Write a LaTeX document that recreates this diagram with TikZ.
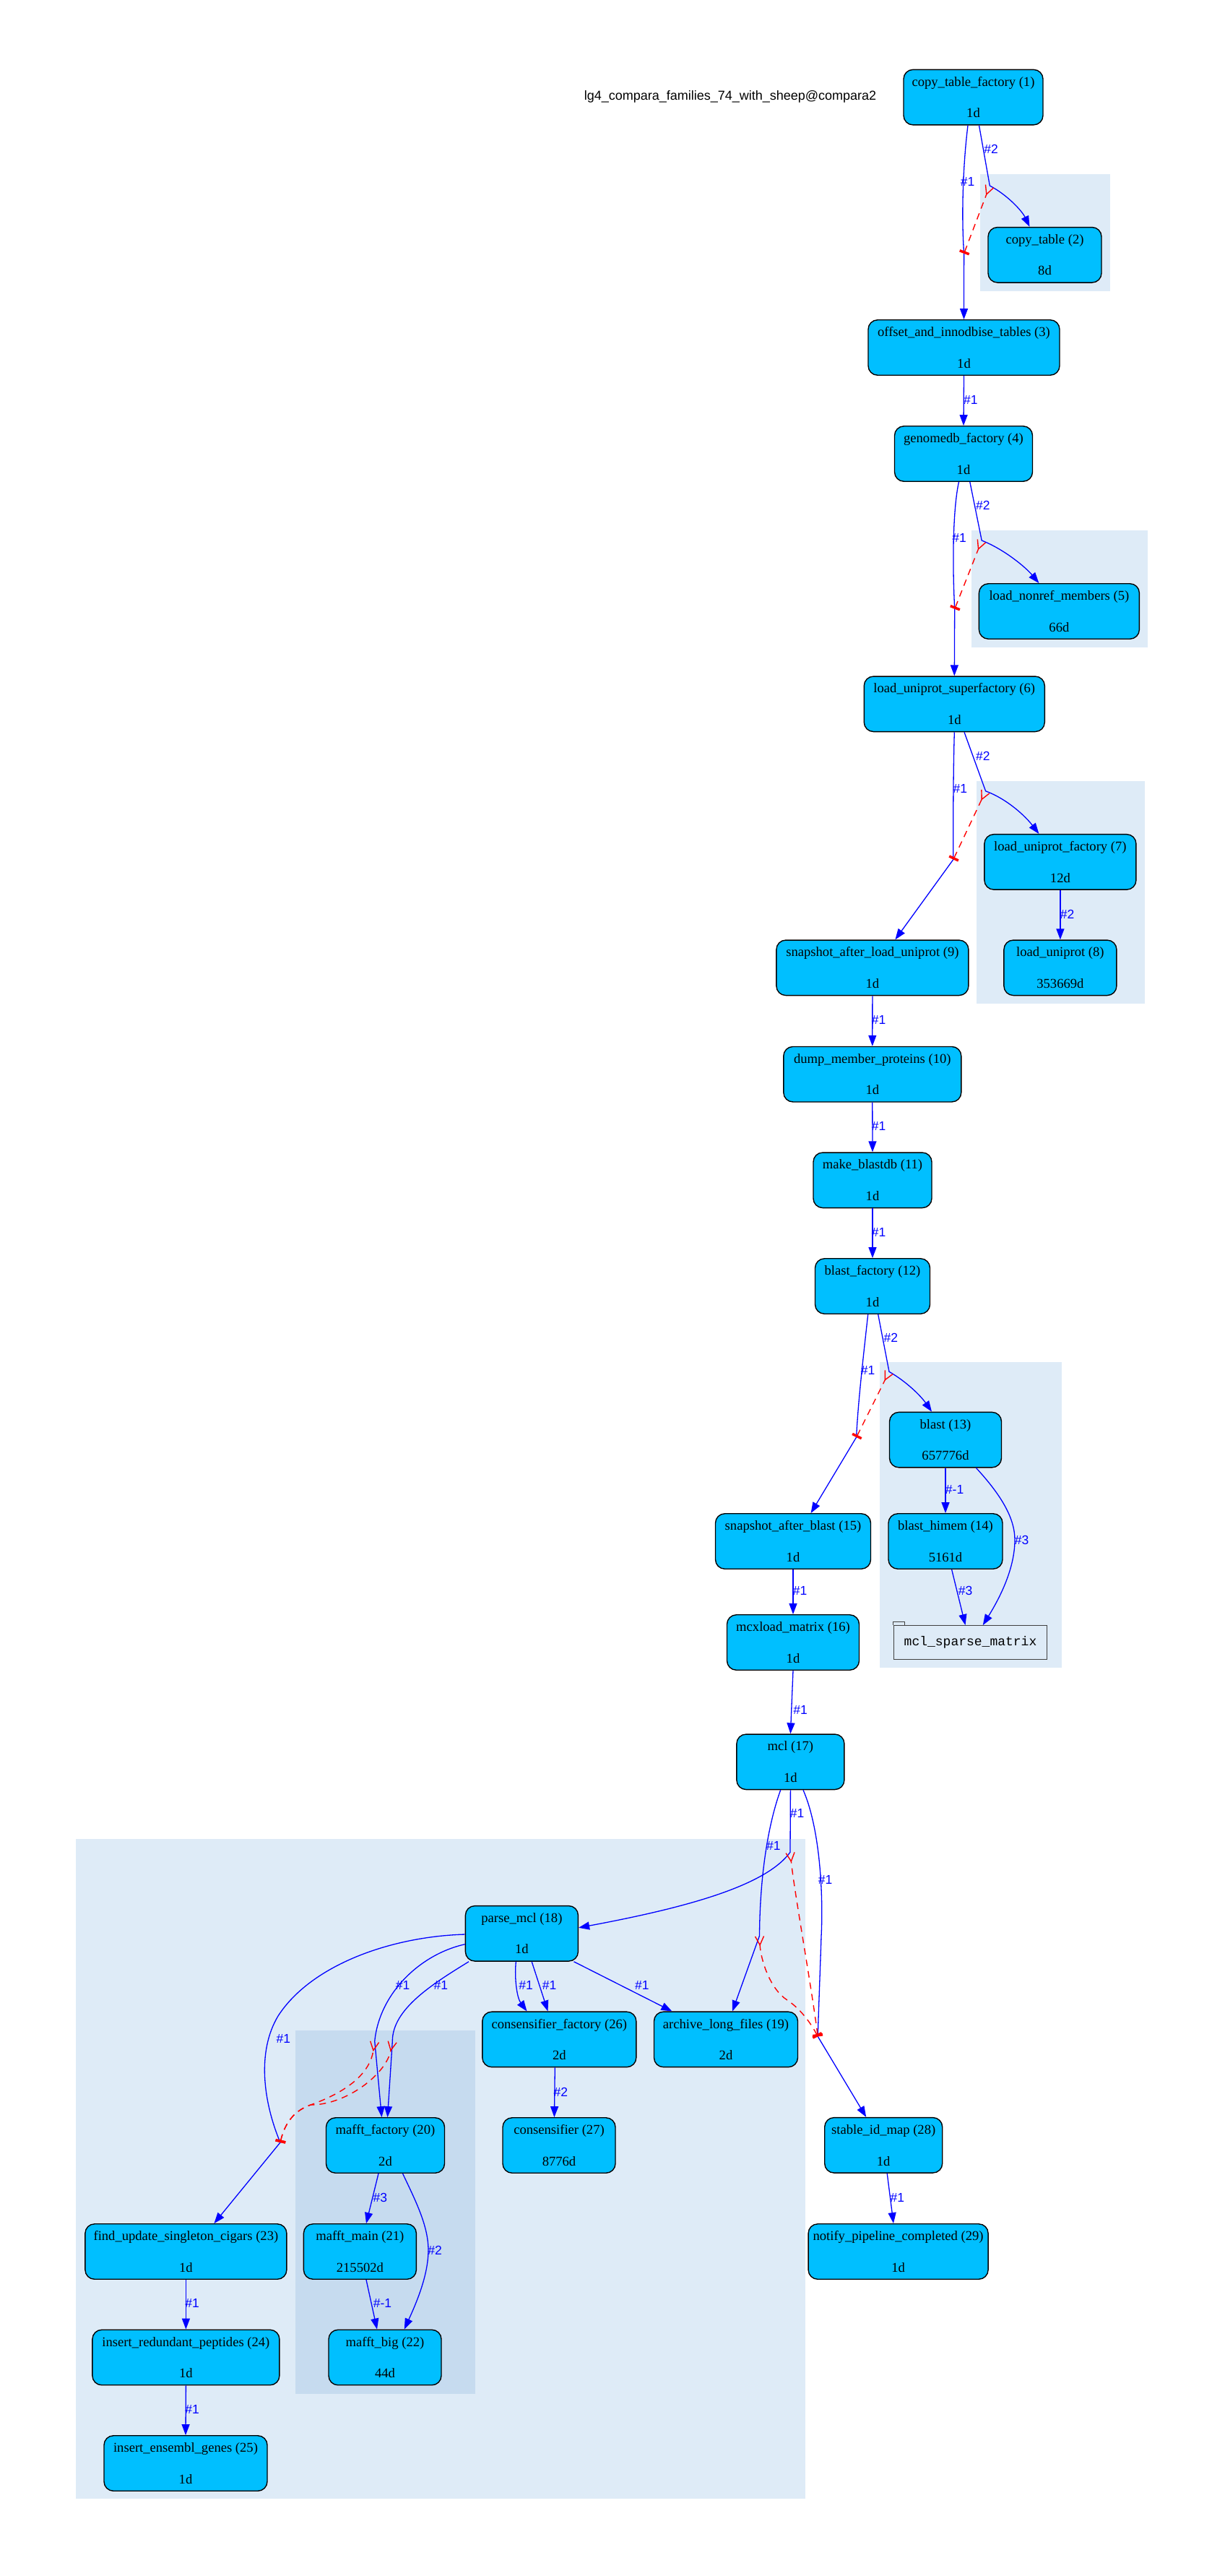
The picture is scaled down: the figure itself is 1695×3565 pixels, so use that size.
\documentclass[tikz,border=0pt]{standalone}
\usepackage{fontspec}
\setmainfont{Liberation Serif}
\setmonofont{Liberation Mono}
\newfontfamily\sansfam{Liberation Sans}
\usepackage{xcolor}
\usepackage{tikz}
\usetikzlibrary{calc,arrows.meta}
\definecolor{jobfill}{HTML}{00BFFF}
\definecolor{blues2}{HTML}{DEEBF7}
\definecolor{blues3}{HTML}{C6DBEF}
\definecolor{linkblue}{HTML}{0000FF}
\definecolor{semared}{HTML}{FF0000}
\definecolor{storeline}{HTML}{404040}
\newcommand\jobfont{\fontsize{18.6}{21.8}\selectfont}
\newcommand\elabfont{\sansfam\fontsize{17.5}{20}\selectfont}
\tikzset{
  jobbox/.style={draw=black, fill=jobfill, rounded corners=13pt, line width=1.4pt,
    minimum height=76.5pt, inner sep=0pt, align=center, font=\jobfont},
  store/.style={draw=storeline, fill=blues2, line width=1.4pt, minimum width=212pt,
    minimum height=46.5pt, inner sep=0pt, font=\ttfamily\fontsize{18}{20}\selectfont},
  tabline/.style={draw=storeline, line width=1.2pt},
  flowpart/.style={draw=linkblue, line width=1.3pt},
  flow/.style={flowpart, -{Triangle[length=15pt,width=11pt]}},
  sema/.style={draw=semared, line width=1.4pt, dash pattern=on 9pt off 7pt,
    {Bar[width=14pt,line width=3.5pt]}-{Straight Barb[reversed,length=12pt,width=12pt]}},
  elab/.style={text=linkblue, font=\elabfont, inner sep=0pt},
  titlelab/.style={text=black, font=\sansfam\fontsize{18}{20}\selectfont, inner sep=0pt}
}

\begin{document}
\begin{tikzpicture}[x=1pt, y=-1pt]
  \fill[white] (0,0) rectangle (1695,3565);
  \useasboundingbox (0,0) rectangle (1695,3565);

  % clusters
  \fill[blues2] (1356.5,240.6) rectangle (1536.6,403.3);
  \fill[blues2] (1344.7,734.2) rectangle (1588.8,896.3);
  \fill[blues2] (1351.6,1080.5) rectangle (1584.6,1389);
  \fill[blues2] (1218,1885) rectangle (1470,2308);
  \fill[blues2] (105.4,2544.5) rectangle (1114.5,3458.2);
  \fill[blues3] (408.5,2809.7) rectangle (658,3312.5);

  \node[titlelab] (title) at (1011,134) {lg4\_compara\_families\_74\_with\_sheep@compara2};

  \node[jobbox, minimum width=193pt] (ctf) at (1347.5,134.6) {copy\_table\_factory (1)\\[21.8pt]1d};
  \node[jobbox, minimum width=157pt] (ct) at (1446.5,352.8) {copy\_table (2)\\[21.8pt]8d};
  \node[jobbox, minimum width=265pt] (oit) at (1334.5,481) {offset\_and\_innodbise\_tables (3)\\[21.8pt]1d};
  \node[jobbox, minimum width=191pt] (gdf) at (1334,628) {genomedb\_factory (4)\\[21.8pt]1d};
  \node[jobbox, minimum width=222pt] (lnm) at (1466.4,846) {load\_nonref\_members (5)\\[21.8pt]66d};
  \node[jobbox, minimum width=250pt] (lus) at (1321.3,974.3) {load\_uniprot\_superfactory (6)\\[21.8pt]1d};
  \node[jobbox, minimum width=210pt] (luf) at (1467.9,1192.9) {load\_uniprot\_factory (7)\\[21.8pt]12d};
  \node[jobbox, minimum width=156pt] (lu) at (1467.9,1339.3) {load\_uniprot (8)\\[21.8pt]353669d};
  \node[jobbox, minimum width=266pt] (salu) at (1207.9,1339.3) {snapshot\_after\_load\_uniprot (9)\\[21.8pt]1d};
  \node[jobbox, minimum width=246pt] (dmp) at (1207.8,1486.7) {dump\_member\_proteins (10)\\[21.8pt]1d};
  \node[jobbox, minimum width=164pt] (mbd) at (1208,1633.3) {make\_blastdb (11)\\[21.8pt]1d};
  \node[jobbox, minimum width=159pt] (bf) at (1208,1780) {blast\_factory (12)\\[21.8pt]1d};
  \node[jobbox, minimum width=155pt] (bl) at (1309,1992.6) {blast (13)\\[21.8pt]657776d};
  \node[jobbox, minimum width=158pt] (blh) at (1309,2133) {blast\_himem (14)\\[21.8pt]5161d};
  \node[jobbox, minimum width=215pt] (sab) at (1098,2133) {snapshot\_after\_blast (15)\\[21.8pt]1d};
  \node[jobbox, minimum width=183pt] (mcx) at (1098,2273) {mcxload\_matrix (16)\\[21.8pt]1d};
  \node[store] (msm) at (1343.5,2273) {mcl\_sparse\_matrix};
  \draw[tabline] (msm.north west) -- ++(0,-4.5) -- ++(15.6,0) -- ++(0,4.5);
  \node[jobbox, minimum width=149pt] (mcl) at (1094.4,2438.3) {mcl (17)\\[21.8pt]1d};
  \node[jobbox, minimum width=156pt] (pm) at (722.4,2675.8) {parse\_mcl (18)\\[21.8pt]1d};
  \node[jobbox, minimum width=199pt] (alf) at (1005,2822.4) {archive\_long\_files (19)\\[21.8pt]2d};
  \node[jobbox, minimum width=164pt] (mf) at (533.5,2969) {mafft\_factory (20)\\[21.8pt]2d};
  \node[jobbox, minimum width=156pt] (mm) at (498.4,3116) {mafft\_main (21)\\[21.8pt]215502d};
  \node[jobbox, minimum width=156pt] (mb) at (533,3262.5) {mafft\_big (22)\\[21.8pt]44d};
  \node[jobbox, minimum width=279pt] (fusc) at (257.4,3116) {find\_update\_singleton\_cigars (23)\\[21.8pt]1d};
  \node[jobbox, minimum width=259pt] (irp) at (257.4,3262.5) {insert\_redundant\_peptides (24)\\[21.8pt]1d};
  \node[jobbox, minimum width=226pt] (ieg) at (257,3409) {insert\_ensembl\_genes (25)\\[21.8pt]1d};
  \node[jobbox, minimum width=213pt] (cf) at (774.3,2822.4) {consensifier\_factory (26)\\[21.8pt]2d};
  \node[jobbox, minimum width=156pt] (cs) at (774,2969) {consensifier (27)\\[21.8pt]8776d};
  \node[jobbox, minimum width=163pt] (sim) at (1223.2,2968.8) {stable\_id\_map (28)\\[21.8pt]1d};
  \node[jobbox, minimum width=249pt] (npc) at (1243.6,3116) {notify\_pipeline\_completed (29)\\[21.8pt]1d};

  % fan and funnel points
  \coordinate (j1a) at (1334.6,350.9);
  \coordinate (j1b) at (1370.3,257);
  \coordinate (j2a) at (1321.7,842.8);
  \coordinate (j2b) at (1359.2,748);
  \coordinate (j3a) at (1319.8,1189.5);
  \coordinate (j3b) at (1364.6,1094.8);
  \coordinate (j4a) at (1185.6,1989.1);
  \coordinate (j4b) at (1231,1898.3);
  \coordinate (j5m) at (1094,2563.3);
  \coordinate (j5a) at (1051.5,2679);
  \coordinate (j5t) at (1132.3,2818.4);
  \coordinate (j6a) at (518.75,2825);
  \coordinate (j6b) at (543.3,2825);
  \coordinate (j6t) at (388,2965);

  \draw[flow] ([xshift=-7.5pt]ctf.south) .. controls (1333,230) and (1331,300) .. (j1a) -- (oit.north);
  \draw[flow] ([xshift=8pt]ctf.south) -- (j1b) .. controls (1395,270) and (1415,292) .. ([xshift=-21pt]ct.north);
  \draw[sema] (j1a) -- (j1b);
  \draw[flow] (oit.south) -- (gdf.north);

  \draw[flow] ([xshift=-6.5pt]gdf.south) .. controls (1320,700) and (1318,770) .. (j2a) -- (lus.north);
  \draw[flow] ([xshift=8.8pt]gdf.south) -- (j2b) .. controls (1390,760) and (1420,785) .. ([xshift=-28pt]lnm.north);
  \draw[sema] (j2a) -- (j2b);

  \draw[flow] (lus.south) .. controls (1320,1060) and (1319.5,1120) .. (j3a) -- ([xshift=31.5pt]salu.north);
  \draw[flow] ([xshift=13.7pt]lus.south) -- (j3b) .. controls (1395,1106) and (1420,1130) .. ([xshift=-29.5pt]luf.north);
  \draw[sema] (j3a) -- (j3b);
  \draw[flow] (luf.south) -- (lu.north);
  \draw[flow] (salu.south) -- (dmp.north);
  \draw[flow] (dmp.south) -- (mbd.north);
  \draw[flow] (mbd.south) -- (bf.north);

  \draw[flow] ([xshift=-6.3pt]bf.south) .. controls (1195,1880) and (1188,1940) .. (j4a) -- ([xshift=24.6pt]sab.north);
  \draw[flow] ([xshift=7.7pt]bf.south) -- (j4b) .. controls (1255,1912) and (1275,1932) .. ([xshift=-19pt]bl.north);
  \draw[sema] (j4a) -- (j4b);
  \draw[flow] (bl.south) -- (blh.north);
  \draw[flow] ([xshift=8.6pt]blh.south) -- ([xshift=-7pt]msm.north);
  \draw[flow] ([xshift=42.5pt]bl.south) .. controls (1385,2068) and (1405,2100) .. (1405,2131)
    .. controls (1405,2170) and (1385,2210) .. ([xshift=17.3pt]msm.north);
  \draw[flow] (sab.south) -- (mcx.north);
  \draw[flow] (mcx.south) -- (mcl.north);

  \draw[flow] (mcl.south) -- (j5m) .. controls (1060,2610) and (950,2640) .. ([yshift=8pt]pm.east);
  \draw[flow] ([xshift=-13.7pt]mcl.south) .. controls (1065,2520) and (1052,2590) .. (j5a) -- ([xshift=9pt]alf.north);
  \draw[flow] ([xshift=17.6pt]mcl.south) .. controls (1135,2530) and (1140,2620) .. (1137,2680)
    .. controls (1135,2740) and (1133,2790) .. (j5t) -- ([xshift=-24pt]sim.north);
  \draw[sema] (j5t) .. controls (1122,2740) and (1100,2620) .. (j5m);
  \draw[sema] (j5t) .. controls (1120,2795) and (1105,2778) .. (1090,2768)
    .. controls (1065,2752) and (1053,2710) .. (j5a);

  \draw[flow] ([xshift=-8.1pt]pm.south) .. controls (712,2740) and (716,2765) .. ([xshift=-44.8pt]cf.north);
  \draw[flow] ([xshift=13.8pt]pm.south) -- ([xshift=-15.8pt]cf.north);
  \draw[flow] ([xshift=72.1pt]pm.south) -- ([xshift=-74.6pt]alf.north);
  \draw[flow] ([xshift=-6pt]cf.south) -- ([xshift=-6.6pt]cs.north);
  \draw[flow] ([yshift=-14.9pt]pm.west) .. controls (580,2705) and (525,2760) .. (j6a) -- ([xshift=-5pt]mf.north);
  \draw[flow] ([xshift=-73.4pt]pm.south) .. controls (600,2745) and (543,2780) .. (j6b) -- ([xshift=3pt]mf.north);
  \draw[flow] ([yshift=-1.2pt]pm.west) .. controls (540,2680) and (430,2720) .. (385,2790)
    .. controls (355,2840) and (365,2910) .. (j6t) -- ([xshift=39pt]fusc.north);
  \draw[sema] (j6t) .. controls (395,2935) and (410,2920) .. (430,2913)
    .. controls (480,2895) and (512,2870) .. (j6a);
  \draw[sema] (j6t) .. controls (395,2935) and (410,2920) .. (430,2913)
    .. controls (480,2913) and (535,2870) .. (j6b);

  \draw[flow] ([xshift=-9.5pt]mf.south) -- ([xshift=8.6pt]mm.north);
  \draw[flow] ([xshift=24pt]mf.south) .. controls (575,3045) and (593,3080) .. (593,3114)
    .. controls (593,3150) and (575,3190) .. ([xshift=26.8pt]mb.north);
  \draw[flow] ([xshift=8.6pt]mm.south) -- ([xshift=-11pt]mb.north);
  \draw[flow] (fusc.south) -- (irp.north);
  \draw[flow] (irp.south) -- (ieg.north);
  \draw[flow] ([xshift=5pt]sim.south) -- ([xshift=-6.6pt]npc.north);

  % edge labels
  \node[elab] (l1) at (1372,206.6) {\#2};
  \node[elab] (l2) at (1339.7,251.4) {\#1};
  \node[elab] (l3) at (1343.8,553.7) {\#1};
  \node[elab] (l4) at (1360.8,699) {\#2};
  \node[elab] (l5) at (1328,744.7) {\#1};
  \node[elab] (l6) at (1360.8,1046) {\#2};
  \node[elab] (l7) at (1329.4,1091) {\#1};
  \node[elab] (l8) at (1477.5,1265.6) {\#2};
  \node[elab] (l9) at (1216.7,1411.7) {\#1};
  \node[elab] (l10) at (1216.7,1558.3) {\#1};
  \node[elab] (l11) at (1216.7,1705) {\#1};
  \node[elab] (l12) at (1233.3,1851.7) {\#2};
  \node[elab] (l13) at (1201.6,1896.5) {\#1};
  \node[elab] (l14) at (1321.6,2061) {\#-1};
  \node[elab] (l15) at (1414.5,2131) {\#3};
  \node[elab] (l16) at (1336.5,2201.8) {\#3};
  \node[elab] (l17) at (1107.7,2201.8) {\#1};
  \node[elab] (l18) at (1108,2366) {\#1};
  \node[elab] (l19) at (1103.6,2509.7) {\#1};
  \node[elab] (l20) at (1070.8,2554.6) {\#1};
  \node[elab] (l21) at (1142.5,2601.5) {\#1};
  \node[elab] (l22) at (728,2747.7) {\#1};
  \node[elab] (l23) at (760.7,2747.7) {\#1};
  \node[elab] (l24) at (888.9,2747.3) {\#1};
  \node[elab] (l25) at (557.6,2747.7) {\#1};
  \node[elab] (l26) at (610.3,2747.7) {\#1};
  \node[elab] (l27) at (392.4,2821.7) {\#1};
  \node[elab] (l28) at (776.4,2895.4) {\#2};
  \node[elab] (l29) at (526.3,3041) {\#3};
  \node[elab] (l30) at (602,3114) {\#2};
  \node[elab] (l31) at (529.5,3187.5) {\#-1};
  \node[elab] (l32) at (266,3187.5) {\#1};
  \node[elab] (l33) at (266,3334) {\#1};
  \node[elab] (l34) at (1242.3,3041.3) {\#1};
\end{tikzpicture}
\end{document}
